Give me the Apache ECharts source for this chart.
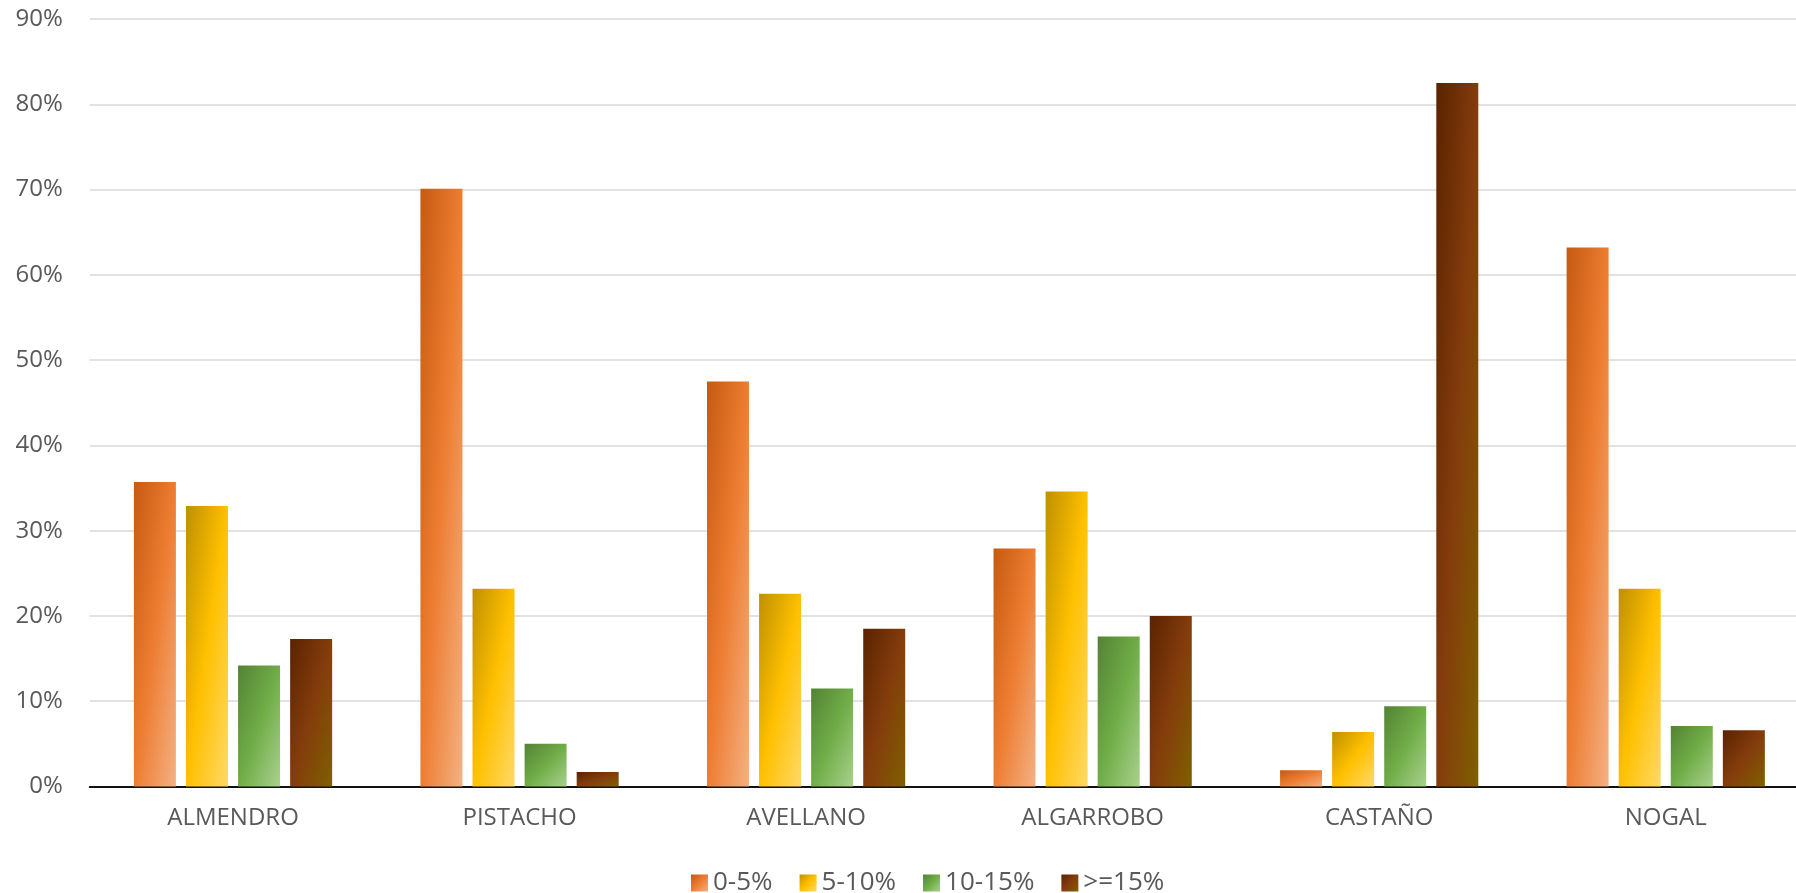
<!DOCTYPE html>
<html>
<head>
<meta charset="utf-8">
<script src="https://cdn.jsdelivr.net/npm/echarts@6/dist/echarts.min.js"></script>
<style>
  html, body { margin: 0; padding: 0; background: #fff; overflow: hidden; }
  /* el area del grafico se sale un poco por la derecha en el original */
  #chart { width: 1809px; height: 893px; }
</style>
</head>
<body>
<div id="chart"></div>
<script>
// datos (porcentaje de superficie por pendiente)
var categories = ['ALMENDRO', 'PISTACHO', 'AVELLANO', 'ALGARROBO', 'CASTAÑO', 'NOGAL'];
var seriesNames = ['0-5%', '5-10%', '10-15%', '>=15%'];
var pend0_5 = [35.7, 70.1, 47.5, 27.9, 1.9, 63.2];
var pend5_10 = [32.9, 23.2, 22.6, 34.6, 6.4, 23.2];
var pend10_15 = [14.2, 5.0, 11.5, 17.6, 9.4, 7.1];
var pend15 = [17.3, 1.7, 18.5, 20.0, 82.5, 6.6];
var yTicks = [0, 10, 20, 30, 40, 50, 60, 70, 80, 90];

// degradados: oscuro, medio, claro
var paletas = [
  ['#C55A11', '#ED7D31', '#F4B183'],
  ['#BF9000', '#FFC000', '#FFD966'],
  ['#548235', '#70AD47', '#A9D18E'],
  ['#5A2300', '#843C0C', '#7F6000']
];
var valores = [pend0_5, pend5_10, pend10_15, pend15];
var anchoBarra = 42;
var fuente = 'Open Sans';

function degradado(p, x2, y2) {
  return new echarts.graphic.LinearGradient(0, 0, x2, y2, [
    { offset: 0, color: p[0] },
    { offset: 0.5, color: p[1] },
    { offset: 1, color: p[2] }
  ]);
}

var chart = echarts.init(document.getElementById('chart'));

var series = seriesNames.map(function (name, i) {
  return {
    name: name,
    type: 'bar',
    barWidth: anchoBarra,
    barGap: '24%',
    itemStyle: { color: degradado(paletas[i], 1, 1) },
    data: valores[i]
  };
});

chart.setOption({
  animation: false,
  backgroundColor: '#fff',
  textStyle: { fontFamily: fuente },
  grid: { left: 89.75, right: 0, top: 19, bottom: 106.5 },
  legend: {
    top: 865,
    left: 686,
    itemWidth: 17,
    itemHeight: 17,
    itemGap: 27,
    icon: 'rect',
    textStyle: { fontSize: 26, color: '#595959', fontFamily: fuente },
    data: seriesNames
  },
  xAxis: [{
    type: 'category',
    data: categories,
    axisLine: { lineStyle: { color: '#111', width: 2 } },
    axisTick: { alignWithLabel: true, length: 7, lineStyle: { color: '#111', width: 2 } },
    axisLabel: { fontSize: 24, color: '#595959', margin: 20, fontFamily: fuente }
  }, {
    type: 'category',
    data: categories,
    position: 'bottom',
    axisLine: { show: false },
    axisTick: { alignWithLabel: true, inside: true, length: 7, lineStyle: { color: '#111', width: 2 } },
    axisLabel: { show: false }
  }],
  yAxis: {
    type: 'value',
    min: yTicks[0],
    max: yTicks[yTicks.length - 1],
    interval: 10,
    axisLine: { show: false },
    axisTick: { show: false },
    axisLabel: { formatter: '{value}%', fontSize: 24, color: '#595959', margin: 27, fontFamily: fuente },
    splitLine: { lineStyle: { color: '#D9D9D9', width: 1.5 } }
  },
  series: series
});

// degradado diagonal escalado a la forma de cada barra (como Excel)
var cero = chart.convertToPixel({ yAxisIndex: 0 }, 0);
series.forEach(function (s, i) {
  s.data = valores[i].map(function (v) {
    var h = Math.max(1, cero - chart.convertToPixel({ yAxisIndex: 0 }, v));
    var w = anchoBarra;
    var d = h * h + w * w;
    return { value: v, itemStyle: { color: degradado(paletas[i], 2 * h * h / d, 2 * w * w / d) } };
  });
});
chart.setOption({ series: series });
</script>
</body>
</html>
